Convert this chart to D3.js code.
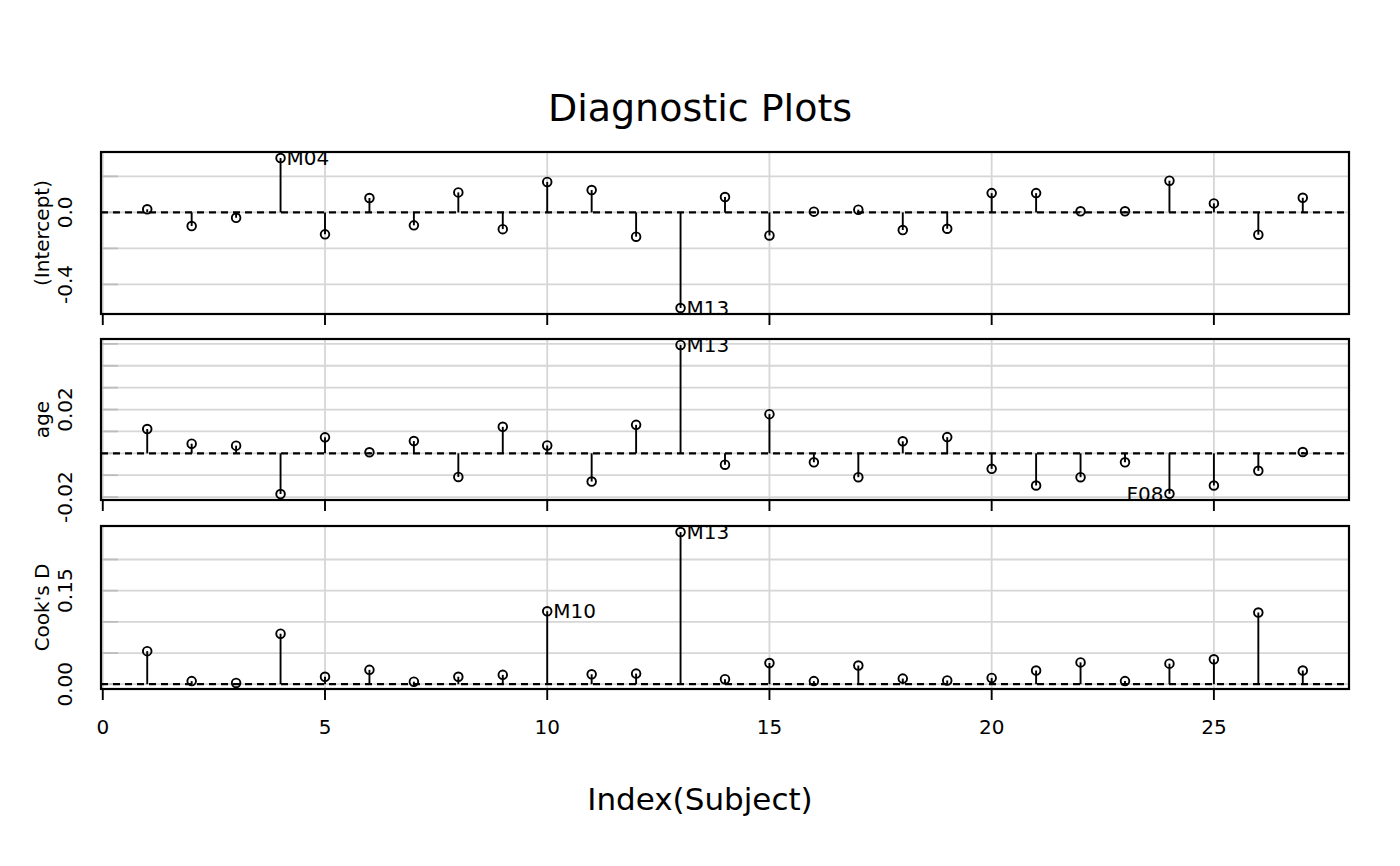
<!DOCTYPE html>
<html>
<head lang="en">
<meta charset="UTF-8">
<title>Diagnostic Plots</title>
<style>
body { margin: 0; background: #fff; }
text { font-family: "DejaVu Sans", sans-serif; fill: #000; }
.tick { font-size: 20px; }
</style>
<script src="https://cdn.jsdelivr.net/npm/d3@7/dist/d3.min.js"></script>
</head>
<body>
<div id="vis"></div>
<script>

// subjects in index order (Orthodont: 16 boys, 11 girls)
var subjects = ["M01","M02","M03","M04","M05","M06","M07","M08","M09","M10","M11","M12","M13","M14","M15","M16",
                "F01","F02","F03","F04","F05","F06","F07","F08","F09","F10","F11"];

var intercept = [0.017,-0.076,-0.030,0.302,-0.122,0.080,-0.072,0.111,-0.093,0.169,0.124,-0.135,-0.531,
                 0.085,-0.128,0.004,0.015,-0.098,-0.091,0.107,0.107,0.006,0.006,0.176,0.050,-0.124,0.081];
var age = [0.0111,0.0044,0.0035,-0.0186,0.0073,0.0005,0.0056,-0.0108,0.0121,0.0036,-0.0129,0.0130,0.0495,
           -0.0052,0.0179,-0.0041,-0.0109,0.0055,0.0074,-0.0071,-0.0147,-0.0109,-0.0041,-0.0185,-0.0147,-0.0080,0.0006];
var cooksD = [0.053,0.005,0.002,0.081,0.012,0.023,0.004,0.012,0.015,0.117,0.016,0.017,0.244,
              0.008,0.034,0.005,0.030,0.009,0.006,0.010,0.022,0.035,0.005,0.033,0.040,0.115,0.022];

// which indices get a name
var interceptOut = [4, 13];
var ageOut = [13, 24];
var cooksOut = [10, 13];

// grid + tick labels
var interceptGrid = [-0.4,-0.2,0,0.2];
var interceptTicks = [-0.4, 0];
var interceptTickLabels = ["-0.4","0.0"];
var ageGrid = [-0.02,-0.01,0,0.01,0.02,0.03,0.04,0.05];
var ageTicks = [-0.02, 0.02];
var ageTickLabels = ["-0.02","0.02"];
var cooksGrid = [0,0.05,0.10,0.15,0.20];
var cooksTicks = [0, 0.15];
var cooksTickLabels = ["0.00","0.15"];
var xTicks = [0,5,10,15,20,25];

var panels = [
  {name: "(Intercept)", vals: intercept, out: interceptOut, grid: interceptGrid, ticks: interceptTicks, labs: interceptTickLabels, top: 152, bottom: 314},
  {name: "age", vals: age, out: ageOut, grid: ageGrid, ticks: ageTicks, labs: ageTickLabels, top: 339, bottom: 500},
  {name: "Cook's D", vals: cooksD, out: cooksOut, grid: cooksGrid, ticks: cooksTicks, labs: cooksTickLabels, top: 526, bottom: 689}
];

var W = 1400, H = 866;
var left = 101, right = 1349;

var svg = d3.select("#vis").append("svg")
  .attr("width", W)
  .attr("height", H);

// 0..(n+1) with a little padding, like lattice does
var n = subjects.length;
var x = d3.scaleLinear()
  .domain([-0.04, n + 1.04])
  .range([left, right]);

svg.append("text")
  .attr("x", 700)
  .attr("y", 108)
  .attr("text-anchor", "middle")
  .attr("dominant-baseline", "central")
  .style("font-size", "38px")
  .text("Diagnostic Plots");

svg.append("text")
  .attr("x", 700)
  .attr("y", 799)
  .attr("text-anchor", "middle")
  .attr("dominant-baseline", "central")
  .style("font-size", "31px")
  .text("Index(Subject)");

panels.forEach(function(p, pi) {
  var ext = d3.extent(p.vals);
  var pad = (ext[1] - ext[0]) * 0.04;
  var y = d3.scaleLinear()
    .domain([ext[0] - pad, ext[1] + pad])
    .range([p.bottom, p.top]);

  var g = svg.append("g");

  // grid
  g.selectAll(".vgrid").data(xTicks).enter().append("line")
    .attr("x1", function(d) { return x(d); })
    .attr("x2", function(d) { return x(d); })
    .attr("y1", p.top)
    .attr("y2", p.bottom)
    .attr("stroke", "#d6d6d6")
    .attr("stroke-width", 1.8);

  g.selectAll(".hgrid").data(p.grid).enter().append("line")
    .attr("x1", left)
    .attr("x2", right)
    .attr("y1", function(d) { return y(d); })
    .attr("y2", function(d) { return y(d); })
    .attr("stroke", "#d6d6d6")
    .attr("stroke-width", 1.8);

  // little grey ticks inside left edge
  g.selectAll(".ltick").data(p.grid).enter().append("line")
    .attr("x1", left)
    .attr("x2", left + 17)
    .attr("y1", function(d) { return y(d); })
    .attr("y2", function(d) { return y(d); })
    .attr("stroke", "#bdbdbd")
    .attr("stroke-width", 1.8);

  // zero line
  g.append("line")
    .attr("x1", left)
    .attr("x2", right)
    .attr("y1", y(0))
    .attr("y2", y(0))
    .attr("stroke", "#000")
    .attr("stroke-width", 2.2)
    .attr("stroke-dasharray", "7,5");

  // stems
  g.selectAll(".stem").data(p.vals).enter().append("line")
    .attr("x1", function(d, i) { return x(i + 1); })
    .attr("x2", function(d, i) { return x(i + 1); })
    .attr("y1", y(0))
    .attr("y2", function(d) { return y(d); })
    .attr("stroke", "#000")
    .attr("stroke-width", 1.9);

  g.selectAll(".pt").data(p.vals).enter().append("circle")
    .attr("cx", function(d, i) { return x(i + 1); })
    .attr("cy", function(d) { return y(d); })
    .attr("r", 4.3)
    .attr("fill", "none")
    .attr("stroke", "#000")
    .attr("stroke-width", 1.9);

  // names for the extreme ones
  p.out.forEach(function(k) {
    var onLeft = k > 20;
    g.append("text")
      .attr("class", "tick")
      .attr("x", x(k) + (onLeft ? -6 : 6))
      .attr("y", y(p.vals[k - 1]))
      .attr("text-anchor", onLeft ? "end" : "start")
      .attr("dominant-baseline", "central")
      .text(subjects[k - 1]);
  });

  // frame
  g.append("rect")
    .attr("x", left)
    .attr("y", p.top)
    .attr("width", right - left)
    .attr("height", p.bottom - p.top)
    .attr("fill", "none")
    .attr("stroke", "#000")
    .attr("stroke-width", 2.2);

  // bottom ticks
  g.selectAll(".btick").data(xTicks).enter().append("line")
    .attr("x1", function(d) { return x(d); })
    .attr("x2", function(d) { return x(d); })
    .attr("y1", p.bottom)
    .attr("y2", p.bottom + 11)
    .attr("stroke", "#000")
    .attr("stroke-width", 1.9);

  // y tick labels (rotated)
  g.selectAll(".ylab").data(p.ticks).enter().append("text")
    .attr("class", "tick")
    .attr("transform", function(d) { return "translate(65," + y(d) + ") rotate(-90)"; })
    .attr("text-anchor", "middle")
    .attr("dominant-baseline", "central")
    .text(function(d, i) { return p.labs[i]; });

  g.append("text")
    .attr("class", "tick")
    .attr("transform", "translate(42," + ((p.top + p.bottom) / 2) + ") rotate(-90)")
    .attr("text-anchor", "middle")
    .attr("dominant-baseline", "central")
    .text(p.name);

  if (pi == panels.length - 1) {
    g.selectAll(".xlab").data(xTicks).enter().append("text")
      .attr("class", "tick")
      .attr("x", function(d) { return x(d); })
      .attr("y", 727)
      .attr("text-anchor", "middle")
      .attr("dominant-baseline", "central")
      .text(function(d) { return d; });
  }
});

</script>
</body>
</html>
